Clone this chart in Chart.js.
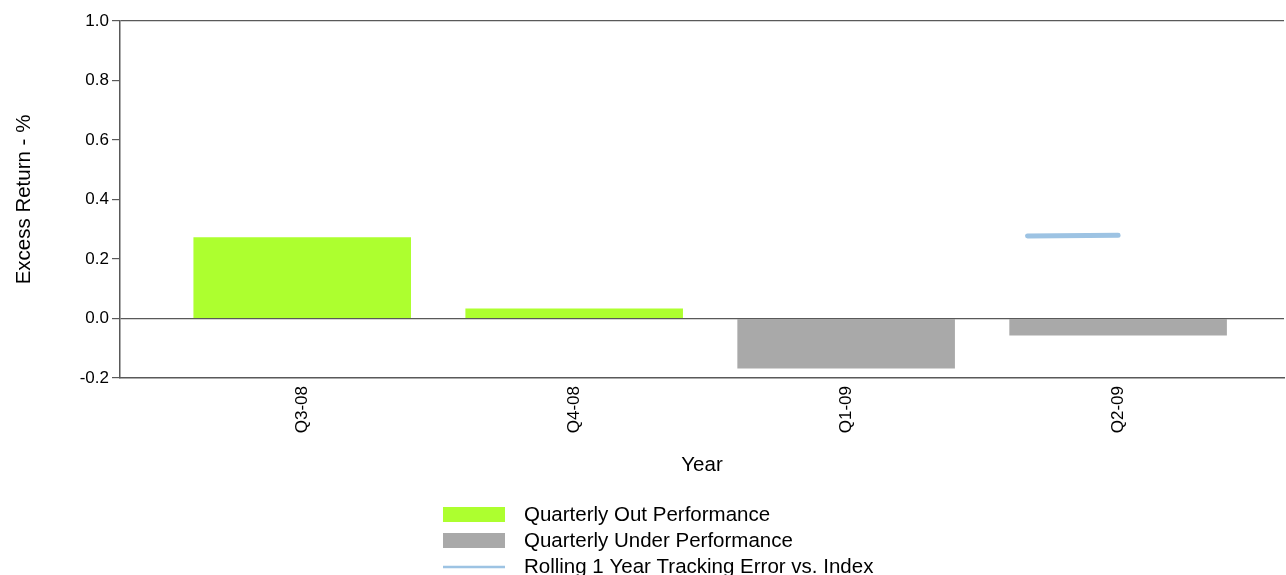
<!DOCTYPE html>
<html>
<head>
<meta charset="utf-8">
<script src="https://cdn.jsdelivr.net/npm/chart.js@4.4.1/dist/chart.umd.min.js"></script>
<style>
  html, body { margin: 0; padding: 0; background: #fff; }
  #wrap { position: relative; width: 1286px; height: 575px; }
</style>
</head>
<body>
<div id="wrap"><canvas id="chart" width="1286" height="575"></canvas></div>
<script>
// quarters on the x axis
const quarters = ['Q3-08', 'Q4-08', 'Q1-09', 'Q2-09'];
// quarterly excess return (%)
const outPerformance = [0.273, 0.034, null, null];
const underPerformance = [null, null, -0.168, -0.057];
// rolling tracking error, monthly points near the last quarter
const trackingX = [2.667, 3.0];
const trackingY = [0.277, 0.280];
const yTicks = [-0.2, 0.0, 0.2, 0.4, 0.6, 0.8, 1.0];

const FONT = '"Liberation Sans", Arial, sans-serif';

// legend drawn under the x axis title, one item per line
const stackedLegend = {
    id: 'stackedLegend',
    afterDraw(chart) {
        const ctx = chart.ctx;
        ctx.save();
        ctx.font = '20.5px ' + FONT;
        ctx.textBaseline = 'middle';
        chart.data.datasets.forEach((ds, i) => {
            const y = 514 + i * 26;
            if (ds.type === 'line') {
                ctx.strokeStyle = ds.borderColor;
                ctx.lineWidth = 2.5;
                ctx.beginPath();
                ctx.moveTo(443, y + 1);
                ctx.lineTo(505, y + 1);
                ctx.stroke();
            } else {
                ctx.fillStyle = ds.backgroundColor;
                ctx.fillRect(443, y - 7, 62, 15);
            }
            ctx.fillStyle = '#000';
            ctx.fillText(ds.label, 524, y + 1);
        });
        ctx.restore();
    }
};

new Chart(document.getElementById('chart'), {
    type: 'bar',
    data: {
        datasets: [
            {
                label: 'Quarterly Out Performance',
                data: quarters.map((q, i) => ({ x: i, y: outPerformance[i] })),
                backgroundColor: '#ADFF2F',
                grouped: false,
                categoryPercentage: 0.8,
                barPercentage: 1.0,
                order: 2
            },
            {
                label: 'Quarterly Under Performance',
                data: quarters.map((q, i) => ({ x: i, y: underPerformance[i] })),
                backgroundColor: '#A9A9A9',
                grouped: false,
                categoryPercentage: 0.8,
                barPercentage: 1.0,
                order: 2
            },
            {
                type: 'line',
                label: 'Rolling 1 Year Tracking Error vs. Index',
                data: trackingX.map((x, i) => ({ x: x, y: trackingY[i] })),
                borderColor: '#9DC3E3',
                borderWidth: 5,
                borderCapStyle: 'round',
                pointRadius: 0,
                fill: false,
                order: 1
            }
        ]
    },
    options: {
        responsive: false,
        animation: false,
        layout: { padding: { left: 8, right: 2, top: 21, bottom: 96 } },
        plugins: {
            legend: { display: false },
            tooltip: { enabled: false }
        },
        scales: {
            x: {
                type: 'linear',
                offset: false,
                min: -0.67,
                max: 3.61,
                afterBuildTicks: scale => { scale.ticks = quarters.map((q, i) => ({ value: i })); },
                afterFit: scale => { scale.height = 101; },
                ticks: {
                    callback: value => quarters[value],
                    minRotation: 90,
                    maxRotation: 90,
                    padding: 8,
                    color: '#000',
                    font: { family: FONT, size: 17 }
                },
                grid: { drawOnChartArea: false, drawTicks: false },
                border: { display: true, color: '#595959', width: 1.5 },
                title: {
                    display: true,
                    text: 'Year',
                    color: '#000',
                    padding: { top: 4, bottom: 1 },
                    font: { family: FONT, size: 20.5 }
                }
            },
            y: {
                min: -0.2,
                max: 1.0,
                afterBuildTicks: scale => { scale.ticks = yTicks.map(v => ({ value: v })); },
                afterFit: scale => { scale.width = 112; },
                ticks: {
                    callback: value => value.toFixed(1),
                    padding: 3,
                    color: '#000',
                    font: { family: FONT, size: 17 }
                },
                grid: {
                    tickLength: 8,
                    tickColor: '#595959',
                    lineWidth: 1.2,
                    color: ctx => (ctx.tick && (ctx.tick.value === 0 || ctx.tick.value === 1)) ? '#595959' : 'rgba(0,0,0,0)'
                },
                border: { display: true, color: '#595959', width: 1.5 },
                title: {
                    display: true,
                    text: 'Excess Return - %',
                    color: '#000',
                    font: { family: FONT, size: 20.5 }
                }
            }
        }
    },
    plugins: [stackedLegend]
});
</script>
</body>
</html>
